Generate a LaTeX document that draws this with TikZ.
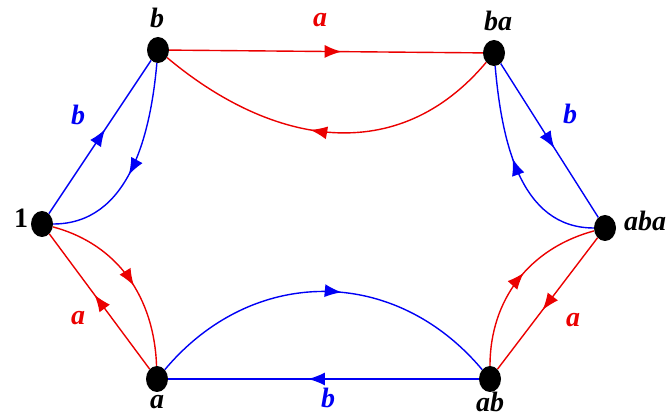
\documentclass[tikz,border=0pt]{standalone}
\usepackage{fontspec}
\setmainfont{Liberation Serif}
\usetikzlibrary{arrows.meta,positioning,decorations.markings,shapes.geometric}
\definecolor{edgeA}{RGB}{235,0,0}
\definecolor{edgeB}{RGB}{0,0,245}
\tikzset{
  vertex/.style={ellipse, fill=black, minimum width=22pt, minimum height=26pt, inner sep=0pt},
  vlabel/.style={font=\fontsize{28}{32}\selectfont\bfseries\itshape, inner sep=0pt},
  midarrow/.style={postaction={decorate},
    decoration={markings, mark=at position #1 with {\arrow{Latex[length=17pt,width=13pt]}}}},
  midarrow/.default=0.55,
  aedge/.style={edgeA, line width=1.4pt, midarrow},
  bedge/.style={edgeB, line width=1.4pt, midarrow}
}
\begin{document}
\begin{tikzpicture}[x=1pt, y=1pt]
    \useasboundingbox (0,0) rectangle (669,419);
    % --- the six group elements ---
    \node[vertex] (e)   at (42,195)  {};
    \node[vertex] (b)   at (158,369) {};
    \node[vertex] (ba)  at (494,366) {};
    \node[vertex] (aba) at (605,191) {};
    \node[vertex] (ab)  at (490,40)  {};
    \node[vertex] (a)   at (157,40)  {};
    % --- element names ---
    \node[vlabel, font=\fontsize{28}{32}\selectfont\bfseries] (le) at (21,201) {1};
    \node[vlabel] (lb)   at (157,401) {b};
    \node[vlabel] (lba)  at (498,398) {ba};
    \node[vlabel] (laba) at (645,198) {aba};
    \node[vlabel] (lab)  at (490,17)  {ab};
    \node[vlabel] (la)   at (157,17)  {a};
    % --- generator a: red edges ---
    \draw[aedge] (b) -- (ba);
    \draw[aedge] (ba) to[out=230, in=320, looseness=1.1] (b);
    \draw[aedge] (aba) -- (ab);
    \draw[aedge] (ab) to[out=90, in=195] (aba);
    \draw[aedge] (a) -- (e);
    \draw[aedge] (e) to[out=-15, in=92] (a);
    \node[vlabel, edgeA] (lat) at (320,399) {a};
    \node[vlabel, edgeA] (lar) at (573,99)  {a};
    \node[vlabel, edgeA] (lal) at (78,101)  {a};
    % --- generator b: blue edges ---
    \draw[bedge] (e) -- (b);
    \draw[bedge] (b) to[out=265, in=0] (e);
    \draw[bedge] (ba) -- (aba);
    \draw[bedge] (aba) to[out=180, in=275] (ba);
    \draw[bedge] (ab) -- (a);
    \draw[bedge] (a) to[out=50, in=130, looseness=1.1] (ab);
    \node[vlabel, edgeB] (lbl) at (78,304)  {b};
    \node[vlabel, edgeB] (lbr) at (570,305) {b};
    \node[vlabel, edgeB] (lbb) at (328,21)  {b};
\end{tikzpicture}
\end{document}
